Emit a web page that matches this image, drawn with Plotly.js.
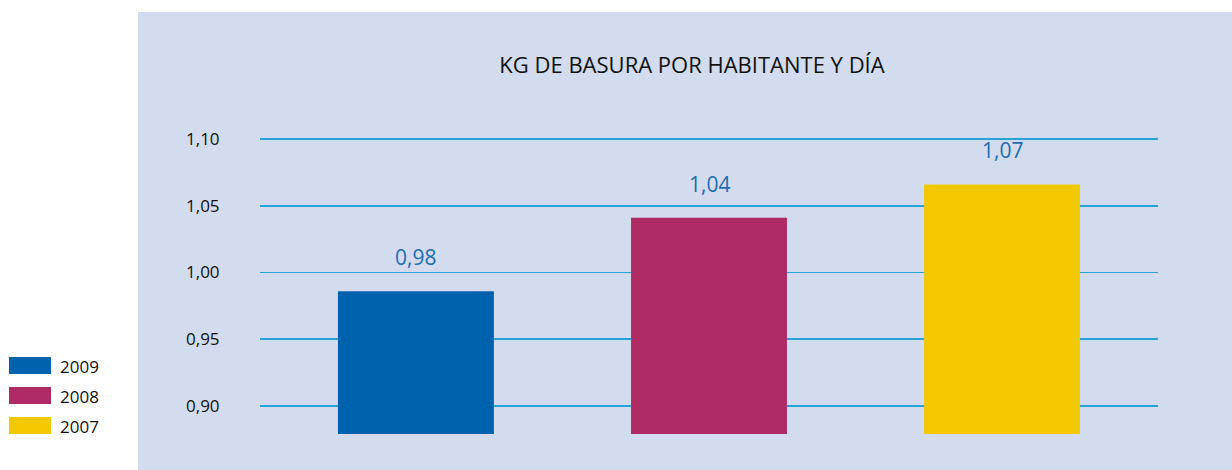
<!DOCTYPE html>
<html>
<head>
<meta charset="utf-8">
<script src="https://cdn.plot.ly/plotly-3.0.1.min.js"></script>
<style>html,body{margin:0;padding:0;background:#fff;}#chart{width:1232px;height:470px;}</style>
</head>
<body>
<div id="chart"></div>
<script>
// Data
const years = ['2009', '2008', '2007'];
const values = [0.986, 1.041, 1.066];
const valueLabels = ['0,98', '1,04', '1,07'];
const colors = ['#0061ad', '#ae2b66', '#f2c800'];
const tickVals = [0.90, 0.95, 1.00, 1.05, 1.10];
const tickText = ['0,90', '0,95', '1,00', '1,05', '1,10'];
const titleText = 'KG DE BASURA POR HABITANTE Y DÍA';

const W = 1232, H = 470;
const mL = 260, mR = 74, mT = 133, mB = 36;
const pw = W - mL - mR, ph = H - mT - mB;
const px = x => (x - mL) / pw;           // pixel -> paper x
const py = y => (H - mB - y) / ph;       // pixel -> paper y

const trace = {
  type: 'bar',
  x: years,
  y: values,
  marker: {color: colors},
  width: 0.532,
  showlegend: false,
  hoverinfo: 'skip'
};

const shapes = [{
  type: 'rect', xref: 'paper', yref: 'paper', layer: 'below',
  x0: px(138), x1: px(1232), y0: py(470), y1: py(12),
  fillcolor: '#d3dcee', line: {width: 0}
}];

const annotations = years.map((yr, i) => ({
  x: i, y: values[i], xref: 'x', yref: 'y',
  text: valueLabels[i], showarrow: false,
  xanchor: 'center', yanchor: 'middle', yshift: 34,
  font: {family: 'Open Sans', size: 21, color: '#1f6db0'}
}));

// Manual legend
years.forEach((yr, i) => {
  const top = 357 + i * 30;
  shapes.push({
    type: 'rect', xref: 'paper', yref: 'paper',
    x0: px(9), x1: px(51), y0: py(top + 17), y1: py(top),
    fillcolor: colors[i], line: {width: 0}
  });
  annotations.push({
    xref: 'paper', yref: 'paper', x: px(58), y: py(top + 9),
    xanchor: 'left', yanchor: 'middle', showarrow: false,
    text: yr, font: {family: 'Open Sans', size: 17, color: '#111'}
  });
});

const layout = {
  width: W, height: H,
  margin: {l: mL, r: mR, t: mT, b: mB, pad: 0},
  paper_bgcolor: '#ffffff',
  plot_bgcolor: 'rgba(0,0,0,0)',
  separators: ',.',
  title: {
    text: titleText, x: px(692), xanchor: 'center', xref: 'paper',
    y: 1 - 65 / H, yanchor: 'middle', yref: 'container',
    font: {family: 'Open Sans', size: 22, color: '#111'}
  },
  xaxis: {
    type: 'category', range: [-0.532, 2.532],
    showticklabels: false, showgrid: false, zeroline: false, showline: false, ticks: ''
  },
  yaxis: {
    range: [0.879, 1.1045], tickvals: tickVals, ticktext: tickText,
    showgrid: true, gridcolor: '#27a3d4', gridwidth: 1.5,
    zeroline: false, showline: false,
    ticks: 'outside', ticklen: 36, tickcolor: 'rgba(0,0,0,0)',
    tickfont: {family: 'Open Sans', size: 17, color: '#111'}
  },
  shapes: shapes,
  annotations: annotations
};

Plotly.newPlot('chart', [trace], layout, {displayModeBar: false, staticPlot: true});
</script>
</body>
</html>
